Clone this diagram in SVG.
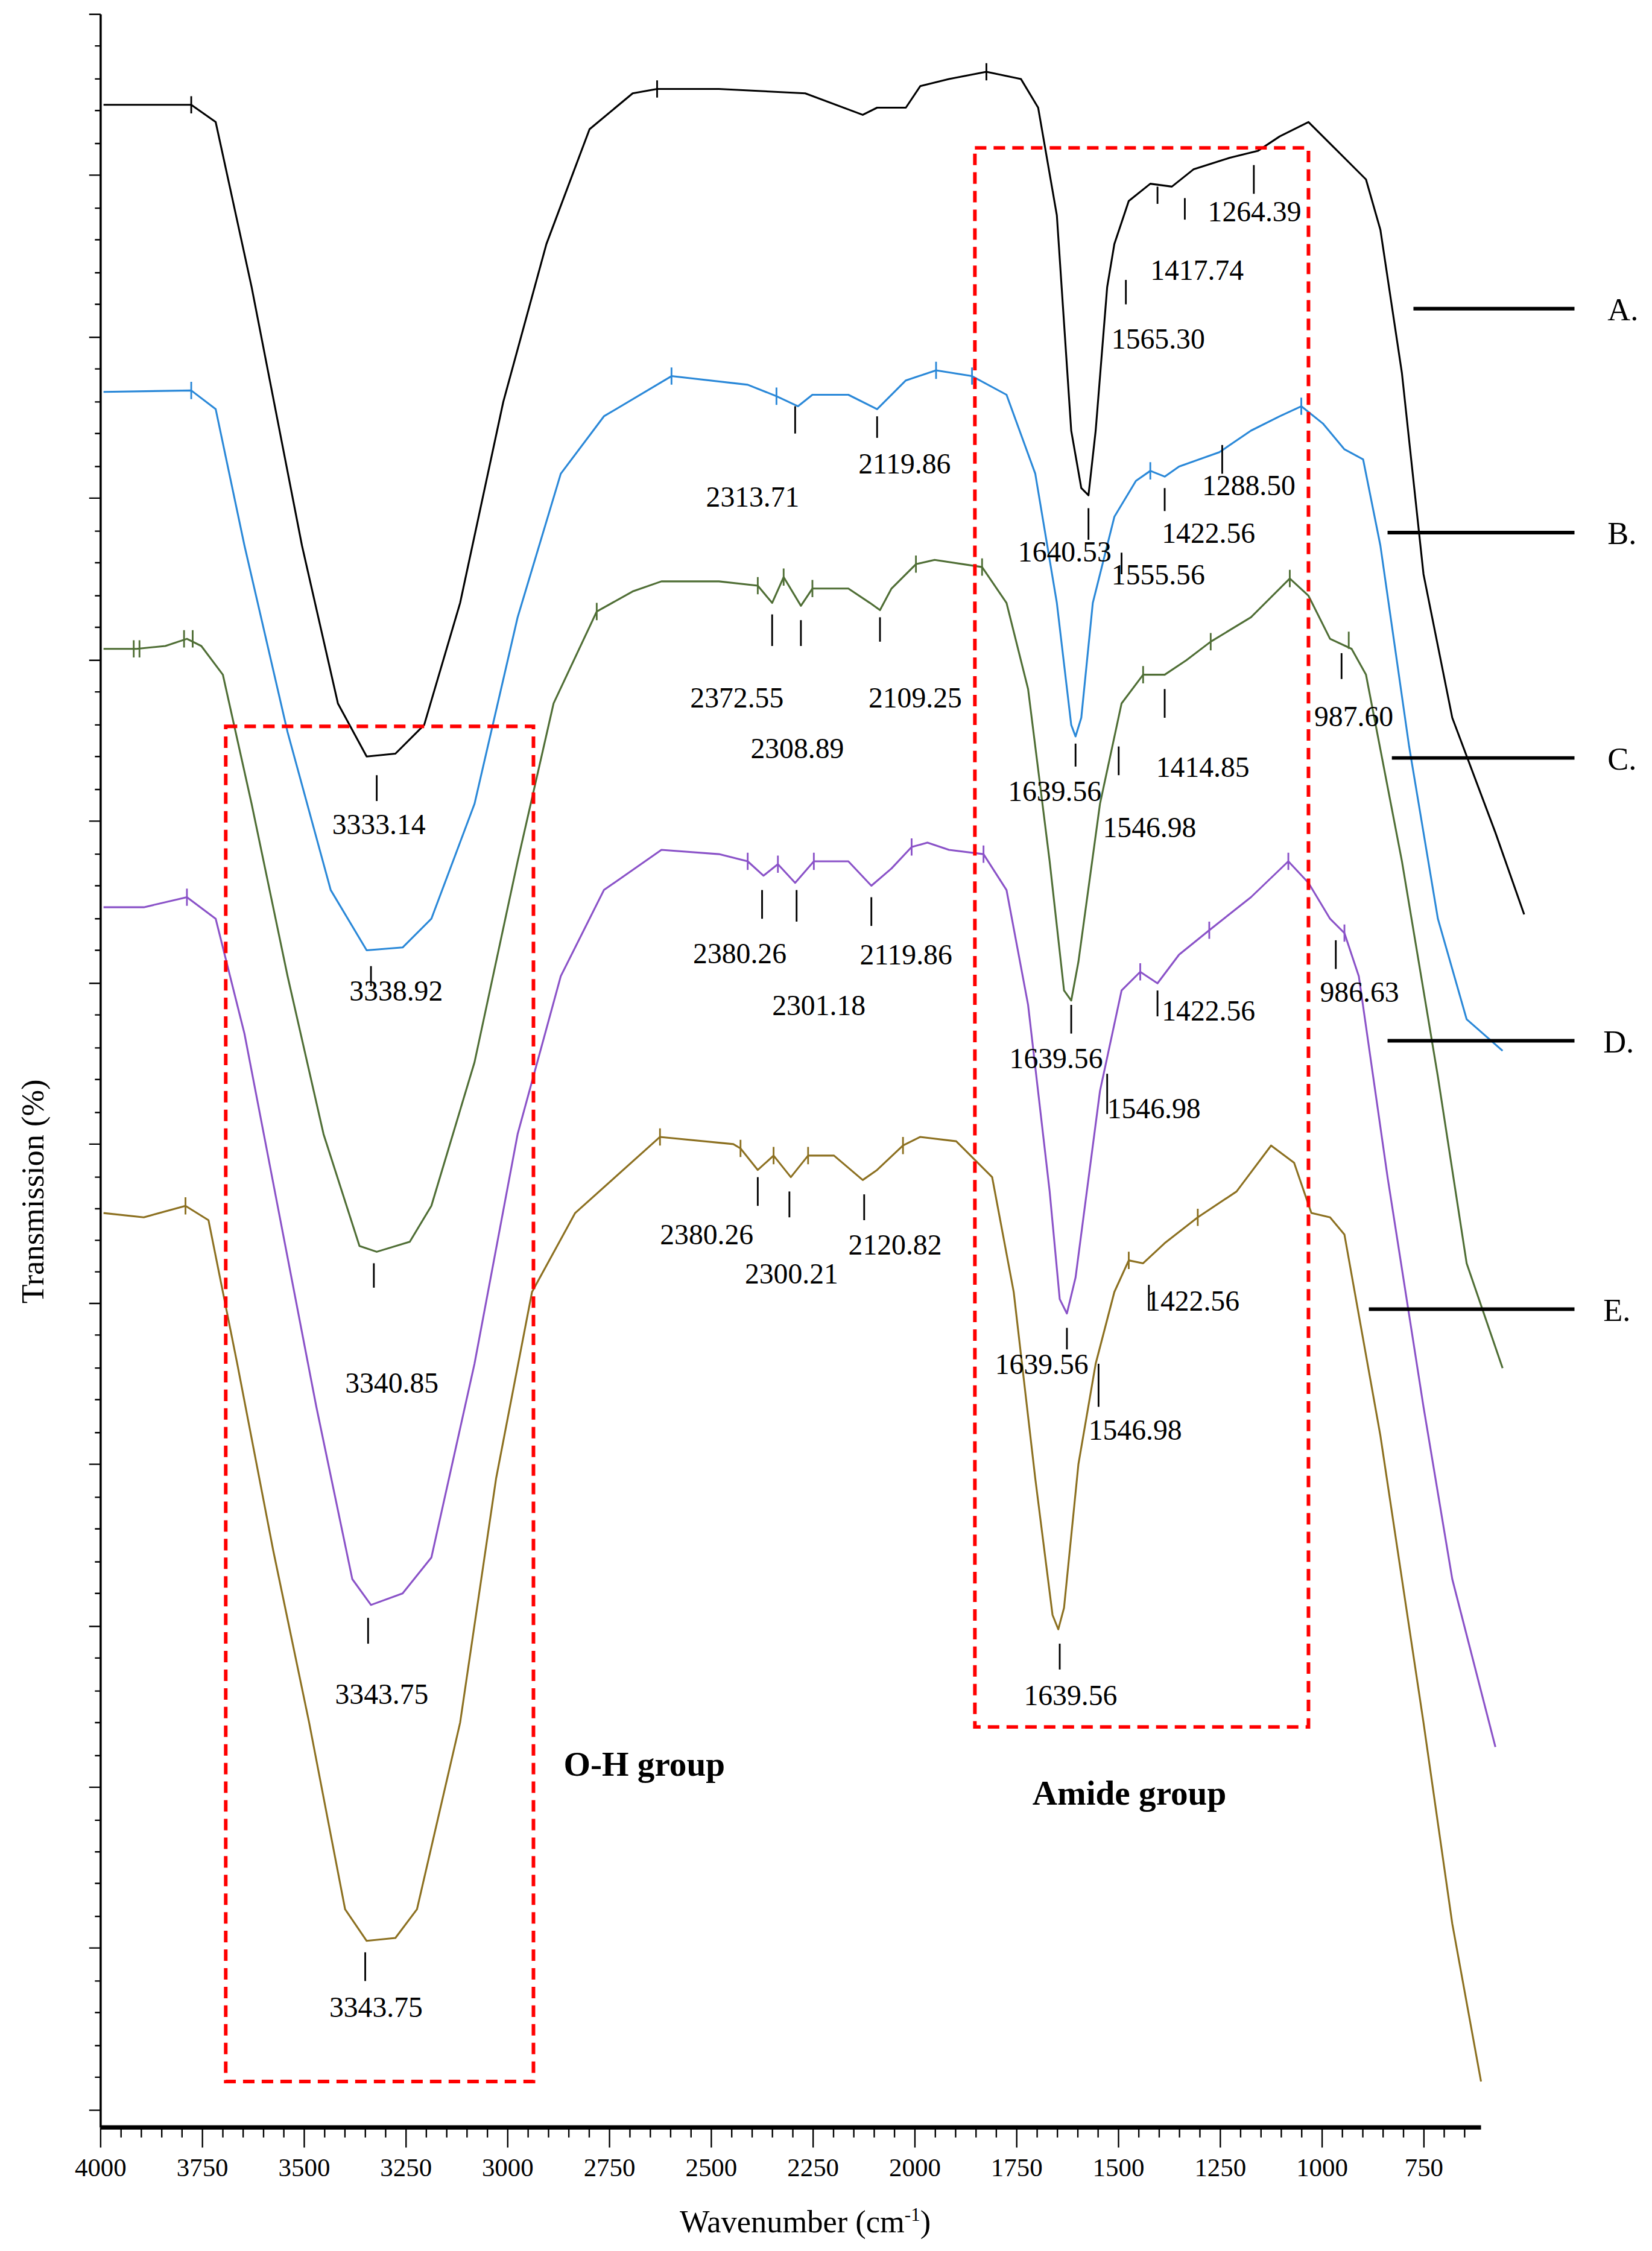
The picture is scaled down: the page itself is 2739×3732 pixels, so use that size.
<svg xmlns="http://www.w3.org/2000/svg" width="2739" height="3732" viewBox="0 0 2739 3732">
<style>
.c{fill:none;stroke-width:1.3;stroke-linejoin:round}
.t{font-family:"Liberation Serif",serif;font-size:20px;fill:#000}
.ax{font-family:"Liberation Serif",serif;font-size:18px;fill:#000}
.pk line{stroke:#000;stroke-width:1.2}
.box{fill:none;stroke:#ff0000;stroke-width:2.5;stroke-dasharray:8 5}
.leg{stroke:#000;stroke-width:2.5}
.b{font-family:"Liberation Serif",serif;font-size:24px;font-weight:bold}
</style>
<rect width="2739" height="3732" fill="#fff"/>
<g transform="scale(2.384 2.38)">
<g id="axes" stroke="#000">
<line x1="70" y1="10" x2="70" y2="1482" stroke-width="1.5"/>
<line x1="70" y1="1482" x2="1030" y2="1482" stroke-width="3"/>
<path stroke-width="1" d="M62 10h8M62 122h8M62 235h8M62 347h8M62 460h8M62 572h8M62 685h8M62 797h8M62 908h8M62 1020h8M62 1133h8M62 1245h8M62 1357h8M62 1470h8M66 32h4M66 55h4M66 77h4M66 100h4M66 145h4M66 167h4M66 190h4M66 212h4M66 257h4M66 280h4M66 302h4M66 325h4M66 370h4M66 392h4M66 415h4M66 437h4M66 482h4M66 505h4M66 527h4M66 550h4M66 595h4M66 617h4M66 640h4M66 662h4M66 707h4M66 730h4M66 752h4M66 775h4M66 820h4M66 842h4M66 864h4M66 886h4M66 930h4M66 953h4M66 975h4M66 998h4M66 1043h4M66 1065h4M66 1088h4M66 1110h4M66 1155h4M66 1178h4M66 1200h4M66 1223h4M66 1268h4M66 1290h4M66 1312h4M66 1335h4M66 1380h4M66 1402h4M66 1425h4M66 1447h4"/>
<path stroke-width="1" d="M70 1482v14M140.8 1482v14M211.6 1482v14M282.4 1482v14M353.1 1482v14M423.9 1482v14M494.7 1482v14M565.5 1482v14M636.3 1482v14M707.1 1482v14M777.9 1482v14M848.7 1482v14M919.5 1482v14M990.3 1482v14M84.2 1482v7M98.3 1482v7M112.5 1482v7M126.6 1482v7M155 1482v7M169.1 1482v7M183.3 1482v7M197.4 1482v7M225.8 1482v7M239.9 1482v7M254.1 1482v7M268.2 1482v7M296.5 1482v7M310.7 1482v7M324.8 1482v7M339 1482v7M367.3 1482v7M381.5 1482v7M395.6 1482v7M409.8 1482v7M438.1 1482v7M452.3 1482v7M466.4 1482v7M480.6 1482v7M508.9 1482v7M523.1 1482v7M537.2 1482v7M551.4 1482v7M579.7 1482v7M593.8 1482v7M608 1482v7M622.1 1482v7M650.5 1482v7M664.6 1482v7M678.8 1482v7M692.9 1482v7M721.3 1482v7M735.4 1482v7M749.6 1482v7M763.7 1482v7M792 1482v7M806.2 1482v7M820.3 1482v7M834.5 1482v7M862.8 1482v7M877 1482v7M891.1 1482v7M905.3 1482v7M933.6 1482v7M947.8 1482v7M961.9 1482v7M976.1 1482v7M1004.4 1482v7M1018.6 1482v7"/>
</g>
<g class="ax" text-anchor="middle">
<text x="70" y="1516">4000</text><text x="140.8" y="1516">3750</text><text x="211.6" y="1516">3500</text><text x="282.4" y="1516">3250</text><text x="353.1" y="1516">3000</text><text x="423.9" y="1516">2750</text><text x="494.7" y="1516">2500</text><text x="565.5" y="1516">2250</text><text x="636.3" y="1516">2000</text><text x="707.1" y="1516">1750</text><text x="777.9" y="1516">1500</text><text x="848.7" y="1516">1250</text><text x="919.5" y="1516">1000</text><text x="990.3" y="1516">750</text>
</g>
<text x="560" y="1555" text-anchor="middle" style="font-family:'Liberation Serif',serif;font-size:22px">Wavenumber (cm<tspan dy="-8" font-size="13">-1</tspan><tspan dy="8">)</tspan></text>
<text transform="translate(30 830) rotate(-90)" text-anchor="middle" style="font-family:'Liberation Serif',serif;font-size:22px">Transmission (%)</text>

<g id="connectors">
<polyline id="A" class="c" stroke="#000" points="72,73 133,73 150,85 175,200 210,380 235,490 255,527 275,525 295,505 320,420 350,280 380,170 410,90 440,65 457,62 500,62 560,65 600,80 610,75 630,75 640,60 660,55 686,50 710,55 722,75 735,150 745,300 752,340 757,345 762,300 770,200 775,170 785,140 800,128 815,130 830,118 855,110 875,105 890,95 910,85 930,105 950,125 960,160 975,260 990,400 1010,500 1040,580 1060,637"/>
<polyline id="B" class="c" stroke="#2a88d8" points="72,273 133,272 150,285 170,380 200,510 230,620 255,662 280,660 300,640 330,560 360,430 390,330 420,290 467,262 520,268 540,276 555,283 565,275 590,275 610,285 630,265 651,258 676,262 700,275 720,330 735,420 745,505 748,513 752,500 760,420 775,360 790,335 800,328 810,332 820,325 848,315 870,300 890,290 905,283 920,295 935,313 948,320 960,380 980,520 1000,640 1020,710 1045,732"/>
<polyline id="C" class="c" stroke="#4f6e35" points="72,452 95,452 115,450 130,445 140,450 155,470 175,560 200,680 225,790 250,868 262,872 285,865 300,840 330,740 360,600 385,490 415,426 440,412 460,405 500,405 527,408 537,420 545,402 557,422 565,410 590,410 605,420 612,425 620,410 637,393 650,390 683,395 700,420 715,480 730,600 740,690 745,697 750,670 765,560 780,490 795,470 810,470 825,460 842,447 870,430 897,403 910,415 925,445 940,452 950,470 975,600 1000,750 1020,880 1045,953"/>
<polyline id="D" class="c" stroke="#8a52c8" points="72,632 100,632 130,625 150,640 170,720 195,850 220,980 245,1100 258,1118 280,1110 300,1085 330,950 360,790 390,680 420,620 460,592 500,595 520,600 531,610 541,602 553,615 566,600 590,600 606,617 620,605 634,590 645,587 660,592 684,595 700,620 715,700 730,830 737,905 742,915 748,890 765,760 780,690 793,677 805,685 820,665 841,648 870,625 896,600 910,615 925,640 935,650 945,680 965,820 990,980 1010,1100 1040,1217"/>
<polyline id="E" class="c" stroke="#8c7020" points="72,845 100,848 129,840 145,850 165,950 190,1080 215,1200 240,1330 255,1352 275,1350 290,1330 320,1200 345,1030 370,900 400,845 459,792 510,797 515,800 527,815 538,805 550,820 562,805 580,805 600,822 610,815 628,798 640,792 665,795 690,820 705,900 720,1030 732,1125 736,1135 740,1120 750,1020 762,950 775,900 785,878 795,880 810,866 833,848 860,830 884,798 900,810 912,845 925,848 935,860 960,1000 990,1200 1010,1340 1030,1450"/>
<g stroke-width="1.2">
<path stroke="#000" d="M133 67v12M457 56v12M686 44v12"/>
<path stroke="#2a88d8" d="M133 266v12M467 256v12M540 270v12M651 252v12M676 256v12M800 322v12M905 277v12"/>
<path stroke="#4f6e35" d="M93 446v12M97 446v12M128 439v12M134 439v12M415 420v12M527 402v12M545 396v12M565 404v12M637 387v12M683 389v12M795 464v12M842 441v12M897 397v12M938 440v12"/>
<path stroke="#8a52c8" d="M130 619v12M520 594v12M541 596v12M566 594v12M634 584v12M684 589v12M793 671v12M841 642v12M896 594v12M935 644v12"/>
<path stroke="#8c7020" d="M129 834v12M459 786v12M515 794v12M538 799v12M562 799v12M628 792v12M785 872v12M833 842v12"/>
</g>
</g>

<g class="pk">
<line x1="262" y1="540" x2="262" y2="558"/><line x1="757" y1="354" x2="757" y2="376"/><line x1="780" y1="385" x2="780" y2="400"/><line x1="783" y1="195" x2="783" y2="212"/><line x1="805" y1="130" x2="805" y2="142"/><line x1="824" y1="138" x2="824" y2="153"/><line x1="872" y1="115" x2="872" y2="135"/>
<line x1="553" y1="283" x2="553" y2="302"/><line x1="610" y1="290" x2="610" y2="305"/><line x1="810" y1="340" x2="810" y2="356"/><line x1="850" y1="310" x2="850" y2="330"/><line x1="258" y1="673" x2="258" y2="687"/>
<line x1="537" y1="428" x2="537" y2="450"/><line x1="557" y1="432" x2="557" y2="450"/><line x1="612" y1="430" x2="612" y2="447"/><line x1="748" y1="518" x2="748" y2="534"/><line x1="778" y1="520" x2="778" y2="540"/><line x1="810" y1="480" x2="810" y2="500"/><line x1="933" y1="455" x2="933" y2="473"/><line x1="260" y1="880" x2="260" y2="897"/>
<line x1="530" y1="620" x2="530" y2="640"/><line x1="554" y1="620" x2="554" y2="642"/><line x1="606" y1="625" x2="606" y2="645"/><line x1="745" y1="700" x2="745" y2="720"/><line x1="770" y1="748" x2="770" y2="776"/><line x1="805" y1="690" x2="805" y2="708"/><line x1="929" y1="655" x2="929" y2="675"/><line x1="256" y1="1127" x2="256" y2="1145"/>
<line x1="527" y1="820" x2="527" y2="840"/><line x1="549" y1="830" x2="549" y2="848"/><line x1="601" y1="832" x2="601" y2="850"/><line x1="742" y1="925" x2="742" y2="940"/><line x1="764" y1="950" x2="764" y2="980"/><line x1="799" y1="895" x2="799" y2="913"/><line x1="737" y1="1145" x2="737" y2="1163"/><line x1="254" y1="1360" x2="254" y2="1380"/>
</g>
<g class="t">
<text x="840" y="154">1264.39</text><text x="800" y="195">1417.74</text><text x="773" y="243">1565.30</text><text x="231" y="581">3333.14</text><text x="708" y="391">1640.53</text><text x="773" y="407">1555.56</text>
<text x="491" y="353">2313.71</text><text x="597" y="330">2119.86</text><text x="808" y="378">1422.56</text><text x="836" y="345">1288.50</text><text x="243" y="697">3338.92</text>
<text x="480" y="493">2372.55</text><text x="522" y="528">2308.89</text><text x="604" y="493">2109.25</text><text x="701" y="558">1639.56</text><text x="767" y="583">1546.98</text><text x="804" y="541">1414.85</text><text x="914" y="506">987.60</text><text x="240" y="970">3340.85</text>
<text x="482" y="671">2380.26</text><text x="537" y="707">2301.18</text><text x="598" y="672">2119.86</text><text x="702" y="744">1639.56</text><text x="770" y="779">1546.98</text><text x="808" y="711">1422.56</text><text x="918" y="698">986.63</text><text x="233" y="1187">3343.75</text>
<text x="459" y="867">2380.26</text><text x="518" y="894">2300.21</text><text x="590" y="874">2120.82</text><text x="692" y="957">1639.56</text><text x="757" y="1003">1546.98</text><text x="797" y="913">1422.56</text><text x="712" y="1188">1639.56</text><text x="229" y="1405">3343.75</text>
</g>
<g id="boxOH"><rect class="box" x="157" y="506" width="214" height="944"/><text class="b" x="392" y="1237">O-H group</text></g>
<g id="boxAmide"><rect class="box" x="678" y="103" width="232" height="1100"/><text class="b" x="718" y="1257">Amide group</text></g>
<g id="legend" style="font-family:'Liberation Serif',serif;font-size:22px">
<g id="legA"><line class="leg" x1="983" y1="215" x2="1095" y2="215"/><text x="1118" y="223">A.</text></g>
<g id="legB"><line class="leg" x1="965" y1="371" x2="1095" y2="371"/><text x="1118" y="379">B.</text></g>
<g id="legC"><line class="leg" x1="968" y1="528" x2="1095" y2="528"/><text x="1118" y="536">C.</text></g>
<g id="legD"><line class="leg" x1="965" y1="725" x2="1095" y2="725"/><text x="1115" y="733">D.</text></g>
<g id="legE"><line class="leg" x1="952" y1="912" x2="1095" y2="912"/><text x="1115" y="920">E.</text></g>
</g>
</g>
</svg>
